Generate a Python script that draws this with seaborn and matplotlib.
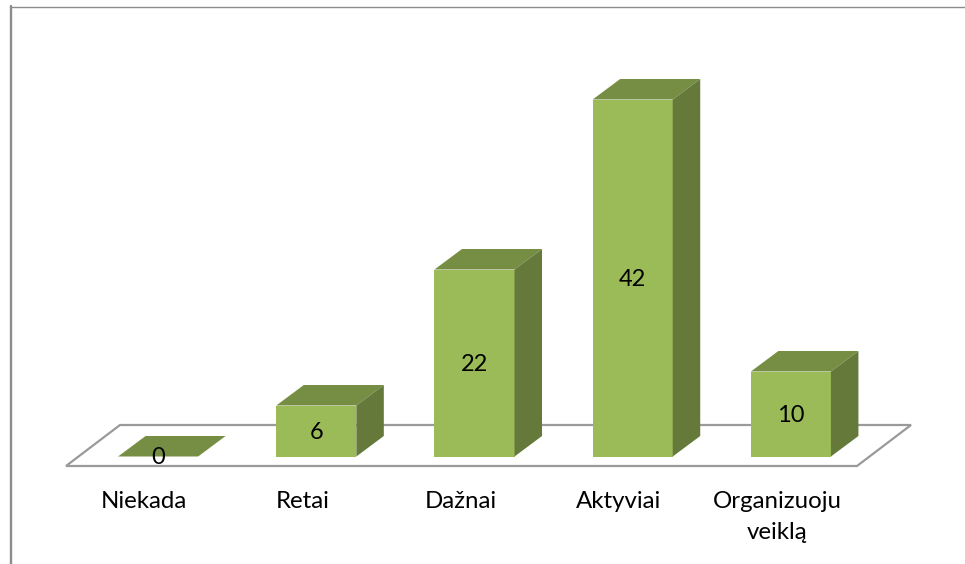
import matplotlib
matplotlib.use("Agg")
import matplotlib.pyplot as plt
import pandas as pd
import seaborn as sns
from matplotlib.lines import Line2D
from matplotlib.patches import Polygon

# chart data
categories = ["Niekada", "Retai", "Dažnai", "Aktyviai", "Organizuoju\nveiklą"]
values = [0, 6, 22, 42, 10]

W, H = 965, 564
FRONT = "#9bbb59"
TOP = "#768e43"
SIDE = "#657a3a"
FLOOR = "#9a9a9a"
FRAME = "#8c8c8c"

sns.set_theme(style="white")
plt.rcParams["font.family"] = ["Lato", "DejaVu Sans"]

df = pd.DataFrame({"category": categories, "value": values})

fig = plt.figure(figsize=(W / 100, H / 100), dpi=100)
ax = fig.add_axes([79 / W, (H - 456.5) / H, 791 / W, 357 / H])

# frame of the picture, only top and left are visible
fig.add_artist(Line2D([11 / W, 11 / W], [0, 1 - 6 / H], color=FRAME, lw=1.7))
fig.add_artist(Line2D([10 / W, 1], [1 - 6.7 / H, 1 - 6.7 / H], color=FRAME, lw=1.0))

sns.barplot(data=df, x="category", y="value", color=FRONT, width=0.506, saturation=1,
            linewidth=0, ax=ax, zorder=3)
ax.set_xlim(-0.5, 4.5)
ax.set_ylim(0, 42)

# px to data units
px_x = 5 / 791
px_y = 42 / 357

# depth of the fake 3d
dx = 27.5 * px_x
dy = 20.5 * px_y

# floor
floor_l = -0.5 - 13 * px_x
floor_r = 4.5 - 13 * px_x
floor_y0 = -9.5 * px_y
floor_y1 = 31.5 * px_y
shift = 54 * px_x
ax.add_patch(Polygon(
    [(floor_l, floor_y0), (floor_r, floor_y0), (floor_r + shift, floor_y1), (floor_l + shift, floor_y1)],
    closed=True, facecolor="white", edgecolor=FLOOR, lw=1.6, zorder=1, clip_on=False,
))

# top and side faces from the bars seaborn drew
for bar, v in zip(list(ax.patches)[:len(values)], values):
    l = bar.get_x()
    r = l + bar.get_width()
    t = bar.get_height()
    ax.add_patch(Polygon([(l, t), (r, t), (r + dx, t + dy), (l + dx, t + dy)], closed=True,
                         facecolor=TOP, edgecolor="none", zorder=4, clip_on=False))
    if v > 0:
        ax.add_patch(Polygon([(r, 0), (r + dx, dy), (r + dx, t + dy), (r, t)], closed=True,
                             facecolor=SIDE, edgecolor="none", zorder=4, clip_on=False))
    # value label in the middle of the front face
    ax.annotate(str(v), (l + bar.get_width() / 2, t / 2), xytext=(0, -1), textcoords="offset points",
                ha="center", va="center", fontsize=17, color="black", zorder=5, annotation_clip=False)

ax.set_xlabel("")
ax.set_ylabel("")
ax.set_yticks([])
# labels sit under the floor, not under the bars
ax.set_xticks([i - 14 * px_x for i in range(len(categories))])
ax.set_xticklabels(categories, fontsize=17.3, color="black", linespacing=1.6)
ax.tick_params(axis="x", length=0, pad=25)
sns.despine(ax=ax, left=True, bottom=True)
ax.patch.set_alpha(0)

fig.savefig("out.png", dpi=100)
